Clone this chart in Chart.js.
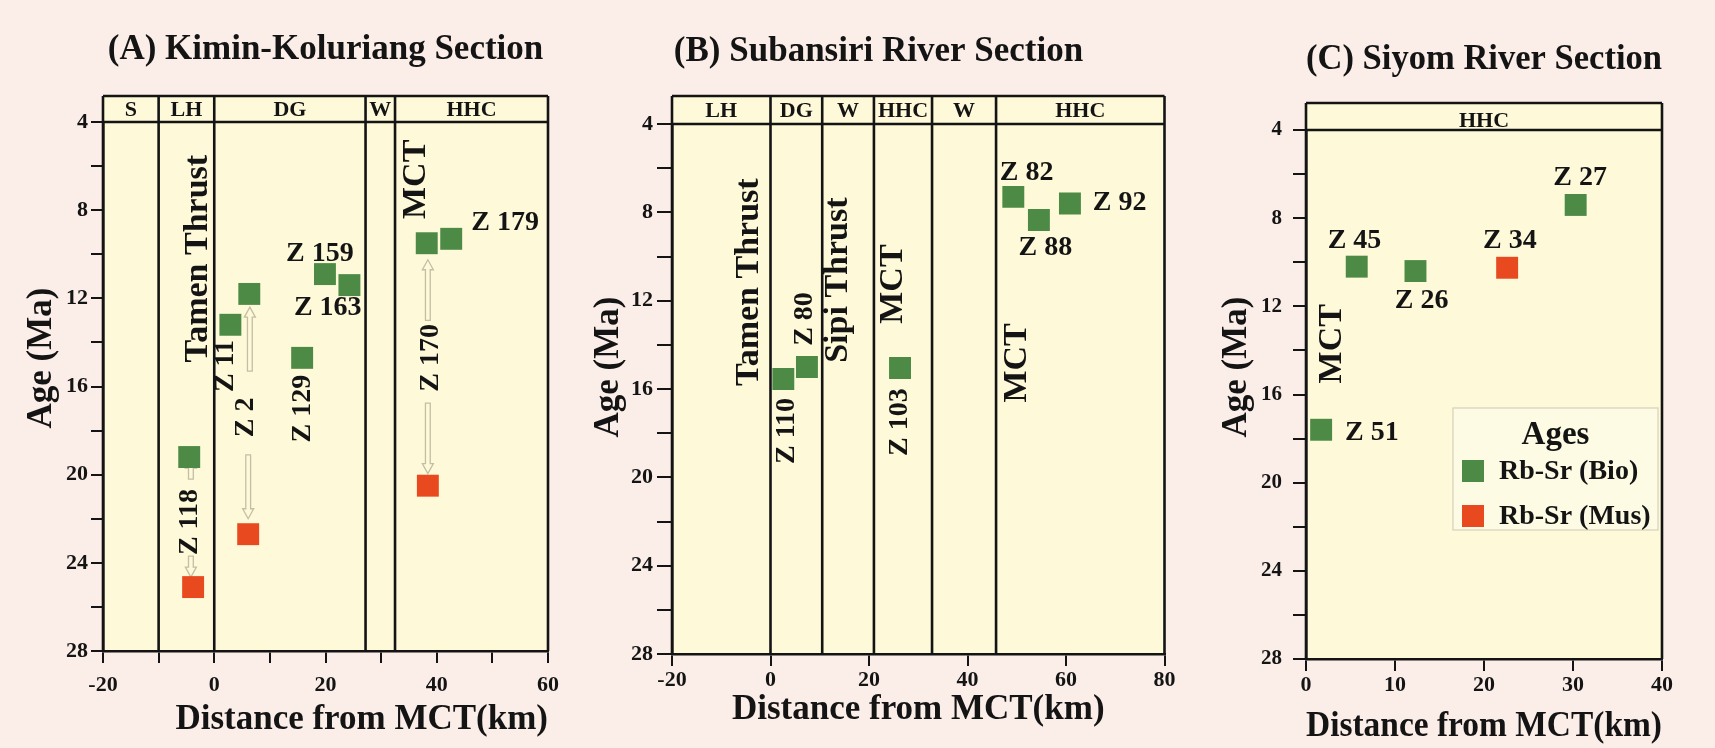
<!DOCTYPE html>
<html>
<head>
<meta charset="utf-8">
<title>Rb-Sr ages vs distance from MCT</title>
<script src="https://cdn.jsdelivr.net/npm/chart.js@4.4.1/dist/chart.umd.min.js"></script>
<style>
  html, body { margin: 0; padding: 0; }
  body { width: 1715px; height: 748px; background: #fbeee9; position: relative; overflow: hidden; }
  canvas { position: absolute; top: 0; }
</style>
</head>
<body>
<canvas id="kimin" width="575" height="748" style="left:0"></canvas>
<canvas id="subansiri" width="605" height="748" style="left:575px"></canvas>
<canvas id="siyom" width="535" height="748" style="left:1180px"></canvas>
<script>
// distance from MCT (km) and Rb-Sr age (Ma)
const ageTicks = [4, 8, 12, 16, 20, 24, 28];

// (A) Kimin-Koluriang
const kiminZones = ['S', 'LH', 'DG', 'W', 'HHC'];
const kiminZoneEdges = [-20, -10, 0, 27.2, 32.5, 60];
const kiminKmTicks = [-20, 0, 20, 40, 60];
const kiminBioKm = [2.9, 6.3, 19.9, 24.3, 15.8, 38.2, 42.6, -4.5];
const kiminBioAge = [13.2, 11.8, 10.9, 11.4, 14.7, 9.5, 9.3, 19.2];
const kiminMusKm = [-3.8, 6.1, 38.4];
const kiminMusAge = [25.1, 22.7, 20.5];

// (B) Subansiri
const subansiriZones = ['LH', 'DG', 'W', 'HHC', 'W', 'HHC'];
const subansiriZoneEdges = [-20, 0, 10.5, 21, 32.8, 45.8, 80];
const subansiriKmTicks = [-20, 0, 20, 40, 60, 80];
const subansiriBioKm = [2.6, 7.4, 26.3, 49.3, 54.5, 60.8];
const subansiriBioAge = [15.55, 15.0, 15.05, 7.3, 8.35, 7.6];

// (C) Siyom
const siyomZones = ['HHC'];
const siyomZoneEdges = [0, 40];
const siyomKmTicks = [0, 10, 20, 30, 40];
const siyomBioKm = [5.7, 12.3, 30.3, 1.7];
const siyomBioAge = [10.2, 10.4, 7.4, 17.6];
const siyomMusKm = [22.6];
const siyomMusAge = [10.25];

const INK = '#141414';
const PLOT_BG = '#fdf9d9';
const BIO = '#4c8a45';
const MUS = '#e9491f';
const ARROW = '#c4bfa4';
const SERIF = '"Liberation Serif", "Times New Roman", serif';
const TICK_FONT = { family: SERIF, size: 22, weight: 'bold' };

// hollow arrow, head at y1
function drawArrow(ctx, x, y0, y1) {
  const dir = Math.sign(y1 - y0);
  const sw = 2.4, hw = 5.5, hl = 10;
  const yb = y1 - dir * hl;
  ctx.beginPath();
  ctx.moveTo(x - sw, y0);
  ctx.lineTo(x - sw, yb);
  ctx.lineTo(x - hw, yb);
  ctx.lineTo(x, y1);
  ctx.lineTo(x + hw, yb);
  ctx.lineTo(x + sw, yb);
  ctx.lineTo(x + sw, y0);
  ctx.closePath();
  ctx.fillStyle = PLOT_BG;
  ctx.fill();
  ctx.strokeStyle = ARROW;
  ctx.lineWidth = 1.3;
  ctx.stroke();
}

function drawLegend(chart, lg) {
  const { ctx, chartArea: a } = chart;
  const bx = a.right - lg.right - lg.width, by = a.top + lg.top;
  ctx.save();
  ctx.fillStyle = '#fdfbe3';
  ctx.fillRect(bx, by, lg.width, lg.height);
  ctx.strokeStyle = '#d5d0bb';
  ctx.lineWidth = 1.2;
  ctx.strokeRect(bx, by, lg.width, lg.height);
  ctx.textBaseline = 'middle';
  ctx.fillStyle = INK;
  ctx.font = `bold 33px ${SERIF}`;
  ctx.textAlign = 'center';
  ctx.fillText(lg.title, bx + lg.width / 2, by + 27);
  ctx.font = `bold 28px ${SERIF}`;
  ctx.textAlign = 'left';
  chart.data.datasets.forEach((ds, i) => {
    const cy = by + 63 + i * 45;
    ctx.fillStyle = ds.backgroundColor;
    ctx.fillRect(bx + 9, cy - 11, 22, 22);
    ctx.fillStyle = INK;
    ctx.fillText(ds.label, bx + 46, cy + 1);
  });
  ctx.restore();
}

function sectionDecor(p) {
  return {
    id: 'sectionDecor',
    beforeDraw(chart) {
      const { ctx, chartArea: a } = chart;
      ctx.save();
      ctx.fillStyle = PLOT_BG;
      ctx.fillRect(a.left, a.top - p.headerH, a.right - a.left, a.bottom - a.top + p.headerH);
      ctx.restore();
    },
    beforeDatasetsDraw(chart) {
      const { ctx, chartArea: a, scales: { x, y } } = chart;
      const top = a.top - p.headerH;
      ctx.save();
      // frame, header band and zone boundaries
      ctx.strokeStyle = INK;
      ctx.lineWidth = 2.6;
      ctx.beginPath();
      ctx.moveTo(a.left, top); ctx.lineTo(a.right, top);
      ctx.moveTo(a.left, a.top); ctx.lineTo(a.right, a.top);
      ctx.moveTo(a.left, top); ctx.lineTo(a.left, a.bottom);
      ctx.moveTo(a.right, top); ctx.lineTo(a.right, a.bottom);
      p.edges.slice(1, -1).forEach(e => {
        const px = x.getPixelForValue(e);
        ctx.moveTo(px, top);
        ctx.lineTo(px, a.bottom);
      });
      ctx.stroke();

      ctx.fillStyle = INK;
      ctx.textAlign = 'center';
      ctx.textBaseline = 'middle';
      ctx.font = `bold 22px ${SERIF}`;
      p.zones.forEach((z, i) => {
        const cx = (x.getPixelForValue(p.edges[i]) + x.getPixelForValue(p.edges[i + 1])) / 2;
        ctx.fillText(z, cx, top + p.headerH / 2 + p.headerDy);
      });

      (p.arrows || []).forEach(ar => {
        drawArrow(ctx, x.getPixelForValue(ar.x), y.getPixelForValue(ar.from), y.getPixelForValue(ar.to));
      });

      ctx.fillStyle = INK;
      p.notes.forEach(n => {
        ctx.save();
        ctx.font = `bold ${n.size}px ${SERIF}`;
        ctx.translate(x.getPixelForValue(n.x), y.getPixelForValue(n.y));
        if (n.vertical) ctx.rotate(-Math.PI / 2);
        ctx.fillText(n.text, 0, 0);
        ctx.restore();
      });

      // y axis title sits above the middle of the axis in the original
      ctx.save();
      ctx.font = `bold 35px ${SERIF}`;
      ctx.translate(a.left - p.yTitleOff, p.yTitleY);
      ctx.rotate(-Math.PI / 2);
      ctx.fillText(chart.options.scales.y.title.text, 0, 0);
      ctx.restore();
      ctx.restore();
    },
    afterDatasetsDraw(chart) {
      if (p.legend) drawLegend(chart, p.legend);
    }
  };
}

function buildChart(canvasId, p) {
  const datasets = [{
    label: 'Rb-Sr (Bio)',
    data: p.bioKm.map((km, i) => ({ x: km, y: p.bioAge[i] })),
    backgroundColor: BIO,
    borderWidth: 0,
    pointStyle: 'rect',
    pointRadius: 15.5
  }];
  if (p.musKm) {
    datasets.push({
      label: 'Rb-Sr (Mus)',
      data: p.musKm.map((km, i) => ({ x: km, y: p.musAge[i] })),
      backgroundColor: MUS,
      borderWidth: 0,
      pointStyle: 'rect',
      pointRadius: 15.5
    });
  }

  return new Chart(document.getElementById(canvasId), {
    type: 'scatter',
    data: { datasets },
    options: {
      responsive: false,
      animation: false,
      events: [],
      layout: { padding: { left: p.padLeft, right: p.padRight, top: 0, bottom: 0 } },
      plugins: {
        legend: { display: false },
        tooltip: { enabled: false },
        title: {
          display: true,
          text: p.title,
          fullSize: p.titleFull,
          color: INK,
          font: { family: SERIF, size: 35, weight: 'bold' },
          padding: p.titlePad
        }
      },
      scales: {
        x: {
          type: 'linear',
          position: 'bottom',
          min: p.xMin,
          max: p.xMax,
          afterFit: s => { s.height = p.xHeight; },
          ticks: {
            stepSize: p.xStep,
            autoSkip: false,
            maxRotation: 0,
            padding: p.xTickPad,
            color: INK,
            font: TICK_FONT,
            callback: v => p.kmTicks.includes(v) ? v : ''
          },
          grid: { drawOnChartArea: false, tickLength: 12, color: INK, lineWidth: 2 },
          border: { color: INK, width: 2.6 },
          title: {
            display: true,
            text: 'Distance from MCT(km)',
            align: p.xTitleAlign,
            color: INK,
            font: { family: SERIF, size: 35, weight: 'bold' },
            padding: { top: 0, bottom: p.xTitlePad }
          }
        },
        y: {
          type: 'linear',
          position: 'left',
          reverse: true,
          min: 4,
          max: 28,
          afterFit: s => { s.width = p.yWidth; },
          ticks: {
            stepSize: 2,
            autoSkip: false,
            padding: p.yTickPad,
            color: INK,
            font: { family: SERIF, size: p.yTickSize, weight: 'bold' },
            callback: v => ageTicks.includes(v) ? v : ''
          },
          grid: { drawOnChartArea: false, tickLength: p.yTickLen, color: INK, lineWidth: 2 },
          border: { color: INK, width: 2.6 },
          title: { display: false, text: 'Age (Ma)' }
        }
      }
    },
    plugins: [sectionDecor(p)]
  });
}

buildChart('kimin', {
  title: '(A) Kimin-Koluriang Section',
  titleFull: false,
  titlePad: { top: 29, bottom: 51 },
  padLeft: 58, padRight: 27, yWidth: 45, xHeight: 97,
  xMin: -20, xMax: 60, xStep: 10, kmTicks: kiminKmTicks,
  xTickPad: 9, xTitlePad: 7, xTitleAlign: 'end',
  yTickLen: 12, yTickPad: 3, yTickSize: 22,
  yTitleOff: 61, yTitleY: 358,
  bioKm: kiminBioKm, bioAge: kiminBioAge,
  musKm: kiminMusKm, musAge: kiminMusAge,
  zones: kiminZones, edges: kiminZoneEdges, headerH: 26, headerDy: 1,
  arrows: [
    { x: 6.4, from: 15.3, to: 12.4 },
    { x: 6.1, from: 19.1, to: 22.0 },
    { x: -4.2, from: 20.2, to: 19.25 },
    { x: -4.2, from: 23.7, to: 24.65 },
    { x: 38.4, from: 13.0, to: 10.25 },
    { x: 38.4, from: 16.75, to: 19.95 }
  ],
  notes: [
    { text: 'Tamen Thrust', x: -2.9, y: 10.2, size: 34, vertical: true },
    { text: 'MCT', x: 36.3, y: 6.6, size: 34, vertical: true },
    { text: 'Z 11', x: 2.1, y: 15.07, size: 28, vertical: true },
    { text: 'Z 2', x: 5.7, y: 17.4, size: 28, vertical: true },
    { text: 'Z 129', x: 15.95, y: 17.0, size: 28, vertical: true },
    { text: 'Z 118', x: -4.36, y: 22.15, size: 28, vertical: true },
    { text: 'Z 170', x: 39.0, y: 14.7, size: 28, vertical: true },
    { text: 'Z 159', x: 19.0, y: 10.0, size: 28 },
    { text: 'Z 163', x: 20.4, y: 12.45, size: 28 },
    { text: 'Z 179', x: 52.3, y: 8.55, size: 28 }
  ]
});

buildChart('subansiri', {
  title: '(B) Subansiri River Section',
  titleFull: true,
  titlePad: { top: 31, bottom: 51 },
  padLeft: 14, padRight: 12, yWidth: 83, xHeight: 94,
  xMin: -20, xMax: 80, xStep: 20, kmTicks: subansiriKmTicks,
  xTickPad: 1, xTitlePad: 17, xTitleAlign: 'center',
  yTickLen: 15, yTickPad: 4, yTickSize: 22,
  yTitleOff: 63, yTitleY: 367,
  bioKm: subansiriBioKm, bioAge: subansiriBioAge,
  zones: subansiriZones, edges: subansiriZoneEdges, headerH: 28, headerDy: 1,
  notes: [
    { text: 'Tamen Thrust', x: -4.27, y: 11.16, size: 34, vertical: true },
    { text: 'Sipi Thrust', x: 13.67, y: 11.07, size: 34, vertical: true },
    { text: 'MCT', x: 24.96, y: 11.25, size: 34, vertical: true },
    { text: 'MCT', x: 50.16, y: 14.82, size: 34, vertical: true },
    { text: 'Z 80', x: 7.0, y: 12.83, size: 28, vertical: true },
    { text: 'Z 110', x: 3.39, y: 17.9, size: 28, vertical: true },
    { text: 'Z 103', x: 26.17, y: 17.5, size: 28, vertical: true },
    { text: 'Z 82', x: 52.0, y: 6.22, size: 28 },
    { text: 'Z 88', x: 55.8, y: 9.62, size: 28 },
    { text: 'Z 92', x: 70.9, y: 7.58, size: 28 }
  ]
});

buildChart('siyom', {
  title: '(C) Siyom River Section',
  titleFull: false,
  titlePad: { top: 38.5, bottom: 49.5 },
  padLeft: 72, padRight: 53, yWidth: 54, xHeight: 89,
  xMin: 0, xMax: 40, xStep: 10, kmTicks: siyomKmTicks,
  xTickPad: 1, xTitlePad: 0, xTitleAlign: 'center',
  yTickLen: 13, yTickPad: 11, yTickSize: 21,
  yTitleOff: 69, yTitleY: 367,
  bioKm: siyomBioKm, bioAge: siyomBioAge,
  musKm: siyomMusKm, musAge: siyomMusAge,
  zones: siyomZones, edges: siyomZoneEdges, headerH: 27, headerDy: 5,
  notes: [
    { text: 'MCT', x: 2.95, y: 13.7, size: 34, vertical: true },
    { text: 'Z 27', x: 30.8, y: 6.17, size: 28 },
    { text: 'Z 45', x: 5.45, y: 9.03, size: 28 },
    { text: 'Z 34', x: 22.9, y: 9.03, size: 28 },
    { text: 'Z 26', x: 13.0, y: 11.74, size: 28 },
    { text: 'Z 51', x: 7.4, y: 17.72, size: 28 }
  ],
  legend: { title: 'Ages', right: 4, width: 205, top: 278, height: 122 }
});
</script>
</body>
</html>
